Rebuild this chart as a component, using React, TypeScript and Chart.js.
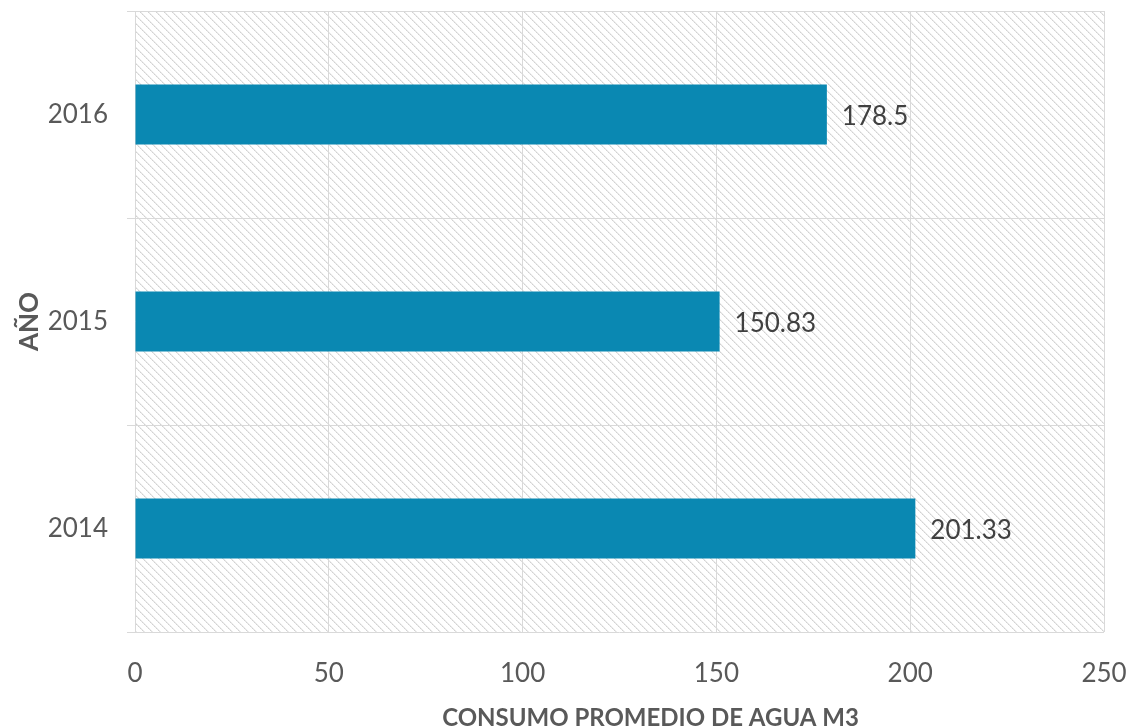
import React, { useEffect, useRef } from "react";
import { Chart, registerables } from "chart.js";

Chart.register(...registerables);

const years = ["2016", "2015", "2014"];
const consumo = [178.5, 150.83, 201.33];
const valueLabels = ["178.5", "150.83", "201.33"];
const xTicks = [0, 50, 100, 150, 200, 250];
const xTitle = "CONSUMO PROMEDIO DE AGUA M3";
const yTitle = "AÑO";

const FONT = "Lato, 'Open Sans', sans-serif";

function makeHatch(ctx: CanvasRenderingContext2D): CanvasPattern | string {
  const c = document.createElement("canvas");
  c.width = 8;
  c.height = 8;
  const g = c.getContext("2d");
  if (!g) return "#fff";
  g.fillStyle = "#ffffff";
  g.fillRect(0, 0, 8, 8);
  for (let i = 0; i < 8; i++) {
    g.fillStyle = i % 2 === 0 ? "#d2d2d2" : "#e0e0e0";
    g.fillRect(i, i, 1, 1);
    g.fillStyle = "#ececec";
    g.fillRect((i + 1) % 8, i, 1, 1);
  }
  return ctx.createPattern(c, "repeat") || "#fff";
}

const hatchPlugin = {
  id: "hatchBg",
  beforeDraw(chart: any) {
    const { ctx, chartArea } = chart;
    if (!chartArea) return;
    ctx.save();
    ctx.fillStyle = makeHatch(ctx);
    ctx.fillRect(chartArea.left, chartArea.top, chartArea.right - chartArea.left, chartArea.bottom - chartArea.top);
    ctx.restore();
  },
};

const labelPlugin = {
  id: "valueLabels",
  afterDatasetsDraw(chart: any) {
    const { ctx, chartArea } = chart;
    const meta = chart.getDatasetMeta(0);
    ctx.save();
    ctx.font = `26px ${FONT}`;
    ctx.fillStyle = "#404040";
    ctx.textAlign = "left";
    ctx.textBaseline = "middle";
    meta.data.forEach((bar: any, i: number) => {
      ctx.fillText(valueLabels[i], bar.x + 15, bar.y + 2);
    });
    // x axis title
    ctx.font = `bold 24px ${FONT}`;
    ctx.fillStyle = "#595959";
    ctx.textAlign = "center";
    ctx.textBaseline = "middle";
    ctx.fillText(xTitle, chartArea.left + (chartArea.right - chartArea.left) * 0.532, chart.height - 9);
    ctx.restore();
  },
};

export default function App() {
  const ref = useRef<HTMLCanvasElement>(null);
  useEffect(() => {
    if (!ref.current) return;
    const chart = new Chart(ref.current, {
      type: "bar",
      data: {
        labels: years,
        datasets: [
          {
            data: consumo,
            backgroundColor: "#0a88b2",
            borderWidth: 0,
            barPercentage: 0.29,
            categoryPercentage: 1,
          },
        ],
      },
      options: {
        indexAxis: "y",
        animation: false,
        responsive: true,
        maintainAspectRatio: false,
        layout: { padding: { left: 0, right: 28, top: 11, bottom: 0 } },
        plugins: {
          legend: { display: false },
          tooltip: { enabled: false },
        },
        scales: {
          x: {
            min: 0,
            max: 250,
            afterBuildTicks: (scale: any) => {
              scale.ticks = xTicks.map((v) => ({ value: v }));
            },
            afterFit: (scale: any) => {
              scale.height = 95;
              scale.paddingLeft = 0;
              scale.paddingRight = 0;
            },
            grid: { color: "#d9d9d9", lineWidth: 1, drawTicks: false },
            border: { display: false },
            ticks: {
              padding: 26,
              color: "#595959",
              font: { family: FONT, size: 26 },
            },
            title: { display: false },
          },
          y: {
            afterFit: (scale: any) => {
              scale.width = 135;
              scale.paddingTop = 0;
              scale.paddingBottom = 0;
            },
            grid: { color: "#d9d9d9", lineWidth: 1, drawTicks: true, tickLength: 8, offset: true },
            border: { display: false },
            ticks: {
              padding: 19,
              color: "#595959",
              font: { family: FONT, size: 26 },
            },
            title: {
              display: true,
              text: yTitle,
              color: "#595959",
              font: { family: FONT, size: 26, weight: "bold", lineHeight: 1 },
              padding: { top: 17, bottom: 0 },
            },
          },
        },
      },
      plugins: [hatchPlugin, labelPlugin],
    } as any);
    return () => chart.destroy();
  }, []);
  return (
    <div style={{ position: "absolute", left: 0, top: 0, width: 1132, height: 727, background: "#fff" }}>
      <canvas ref={ref} />
    </div>
  );
}
